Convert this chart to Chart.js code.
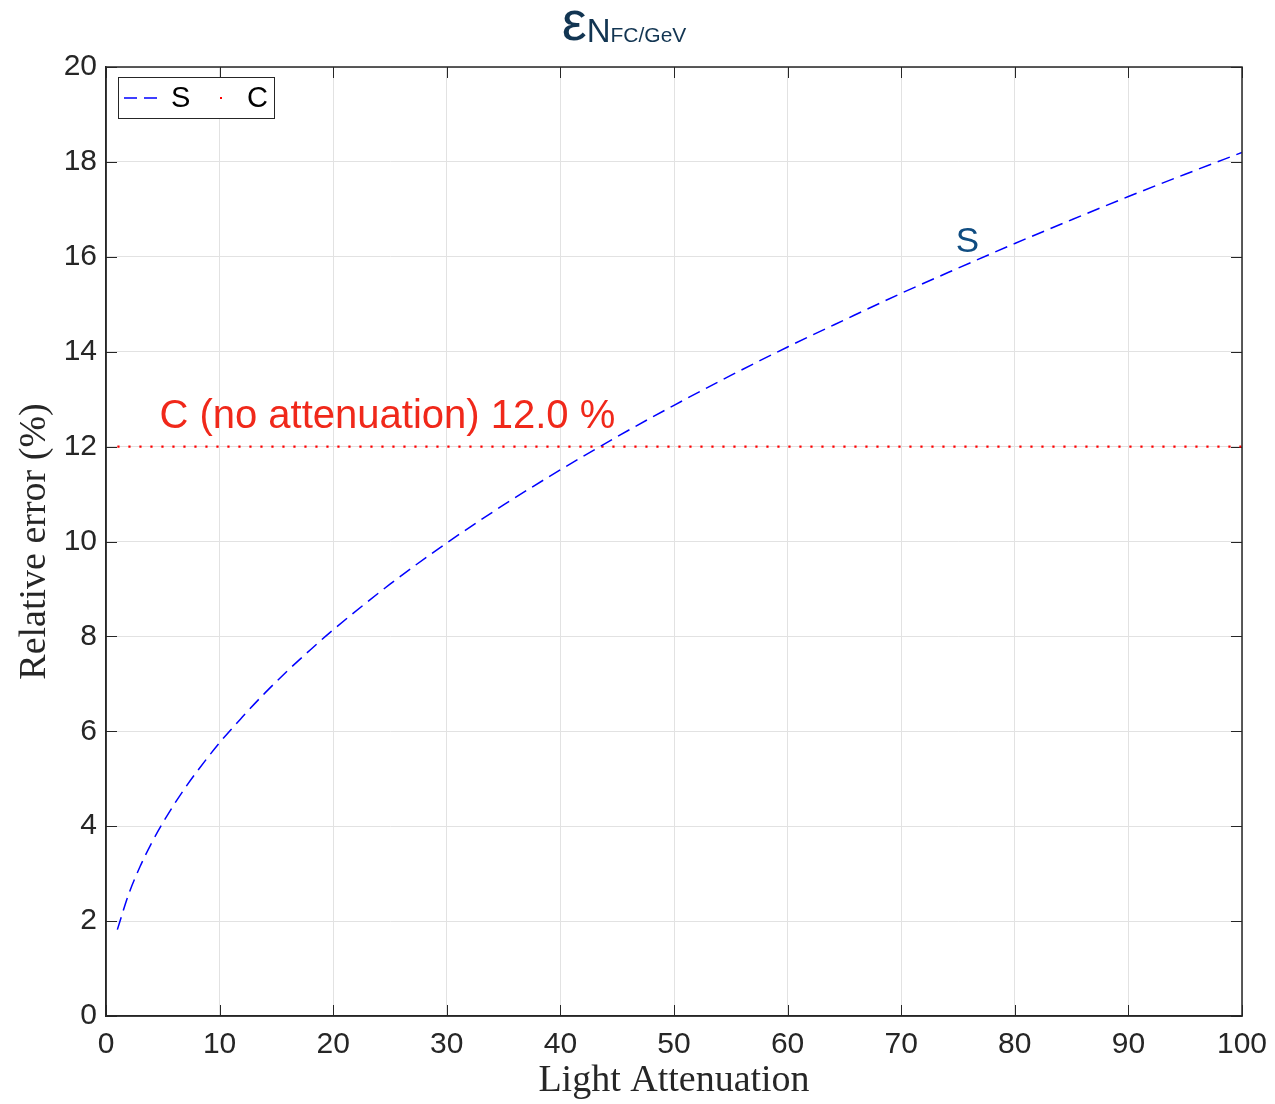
<!DOCTYPE html>
<html><head><meta charset="utf-8">
<script src="https://cdn.jsdelivr.net/npm/chart.js@4"></script>
<style>html,body{margin:0;padding:0;background:#fff}#wrap{width:1275px;height:1104px}</style>
</head><body><div id="wrap"><canvas id="c" width="1275" height="1104"></canvas></div>
<script>
// ---- data ----
const attenuation = [1,2,3,4,5,6,7,8,10,12,14,16,18,20,25,30,35,40,45,50,55,60,65,70,75,80,85,90,95,100];
const relErrorS   = [1.82,2.57,3.15,3.64,4.07,4.46,4.82,5.15,5.76,6.30,6.81,7.28,7.72,8.14,9.10,9.97,10.77,11.51,12.21,12.87,13.50,14.10,14.67,15.23,15.76,16.28,16.78,17.27,17.74,18.20];
const constantC = 12.0;
const xTicks = [0,10,20,30,40,50,60,70,80,90,100];
const yTicks = [0,2,4,6,8,10,12,14,16,18,20];
const seriesNames = ['S','C'];
const annotationC = 'C (no attenuation) 12.0 %';
const annotationS = 'S';
const titleMain = 'ε', titleSub1 = 'N', titleSub2 = 'FC/GeV';
const xLabel = 'Light Attenuation';
const yLabel = 'Relative error (%)';

const TICKFONT = '"Liberation Sans", Arial, Helvetica, sans-serif';
const SERIF = '"Liberation Serif", "Times New Roman", serif';
const AXC = '#262626';

const deco = {
  id: 'deco',
  beforeDatasetsDraw(chart) {
    const {ctx, chartArea: a} = chart;
    ctx.save();
    ctx.strokeStyle = AXC; ctx.lineWidth = 1;
    const xs = chart.scales.x, ys = chart.scales.y;
    ctx.beginPath();
    xTicks.forEach(v => {
      const px = Math.round(xs.getPixelForValue(v)) + 0.5;
      ctx.moveTo(px, a.bottom); ctx.lineTo(px, a.bottom - 11);
      ctx.moveTo(px, a.top); ctx.lineTo(px, a.top + 11);
    });
    yTicks.forEach(v => {
      const py = Math.round(ys.getPixelForValue(v)) + 0.5;
      ctx.moveTo(a.left, py); ctx.lineTo(a.left + 11, py);
      ctx.moveTo(a.right, py); ctx.lineTo(a.right - 11, py);
    });
    ctx.stroke();
    ctx.restore();
  },
  afterDraw(chart) {
    const {ctx, chartArea: a} = chart;
    const xs = chart.scales.x, ys = chart.scales.y;
    ctx.save();
    // box
    ctx.strokeStyle = AXC; ctx.lineWidth = 1.5;
    ctx.strokeRect(a.left, a.top, a.right - a.left, a.bottom - a.top);
    // annotations
    ctx.textBaseline = 'alphabetic'; ctx.textAlign = 'left';
    ctx.fillStyle = '#f0281a';
    ctx.font = '40px ' + TICKFONT;
    ctx.fillText(annotationC, xs.getPixelForValue(4.7), ys.getPixelForValue(12.39));
    ctx.fillStyle = '#0f4c81';
    ctx.font = '35px ' + TICKFONT;
    ctx.fillText(annotationS, xs.getPixelForValue(74.8), ys.getPixelForValue(16.1));
    // legend
    const lx = 118, ly = 77, lw = 156, lh = 41;
    ctx.fillStyle = '#fff'; ctx.fillRect(lx, ly, lw, lh);
    ctx.strokeStyle = AXC; ctx.lineWidth = 1;
    ctx.strokeRect(lx + 0.5, ly + 0.5, lw, lh);
    const ds = chart.data.datasets;
    ctx.strokeStyle = ds[0].borderColor; ctx.lineWidth = 1.5;
    ctx.setLineDash([13, 7]);
    ctx.beginPath(); ctx.moveTo(124, 98); ctx.lineTo(163, 98); ctx.stroke();
    ctx.setLineDash([]);
    ctx.fillStyle = ds[1].borderColor;
    ctx.fillRect(220, 97, 2, 2);
    ctx.fillStyle = '#000';
    ctx.font = '29px ' + TICKFONT;
    ctx.textBaseline = 'middle';
    ctx.fillText(seriesNames[0], 171, 99);
    ctx.fillText(seriesNames[1], 247, 99);
    // title
    ctx.fillStyle = '#123552';
    ctx.textBaseline = 'alphabetic';
    const f1 = '56px ' + TICKFONT, f2 = '33px ' + TICKFONT, f3 = '21px ' + TICKFONT;
    ctx.font = f1; const w1 = ctx.measureText(titleMain).width;
    ctx.font = f2; const w2 = ctx.measureText(titleSub1).width;
    ctx.font = f3; const w3 = ctx.measureText(titleSub2).width;
    let tx = 624 - (w1 + w2 + w3) / 2;
    ctx.font = f1; ctx.fillText(titleMain, tx, 40); tx += w1;
    ctx.font = f2; ctx.fillText(titleSub1, tx, 42); tx += w2;
    ctx.font = f3; ctx.fillText(titleSub2, tx, 42);
    ctx.restore();
  }
};

new Chart(document.getElementById('c'), {
  type: 'line',
  data: {
    datasets: [
      {
        label: seriesNames[0],
        data: attenuation.map((x, i) => ({x, y: relErrorS[i]})),
        borderColor: '#0000ff', borderWidth: 1.5, borderDash: [13, 7],
        pointRadius: 0, tension: 0.4, cubicInterpolationMode: 'monotone', fill: false
      },
      {
        label: seriesNames[1],
        data: [{x: attenuation[0], y: constantC}, {x: attenuation[attenuation.length - 1], y: constantC}],
        borderColor: '#ff0000', borderWidth: 2.2, borderDash: [2.2, 8.8],
        pointRadius: 0, fill: false
      }
    ]
  },
  options: {
    responsive: false, animation: false, devicePixelRatio: 1,
    layout: {padding: {left: 0, right: 33, top: 67, bottom: 0}},
    plugins: {legend: {display: false}, title: {display: false}, tooltip: {enabled: false}},
    scales: {
      x: {
        type: 'linear', min: 0, max: 100,
        afterBuildTicks: s => { s.ticks = xTicks.map(v => ({value: v})); },
        afterFit: s => { s.height = 88; s.paddingLeft = 0; s.paddingRight = 0; },
        grid: {color: '#e2e2e2', lineWidth: 1, drawTicks: false},
        border: {display: true, color: AXC, width: 1.5},
        ticks: {font: {family: TICKFONT, size: 30}, color: AXC, padding: 11, maxRotation: 0, autoSkip: false},
        title: {display: true, text: xLabel, font: {family: SERIF, size: 38}, color: AXC, padding: {top: 0, bottom: 0}}
      },
      y: {
        type: 'linear', min: 0, max: 20,
        afterBuildTicks: s => { s.ticks = yTicks.map(v => ({value: v})); },
        afterFit: s => { s.width = 106; s.paddingTop = 0; s.paddingBottom = 0; },
        grid: {color: '#e2e2e2', lineWidth: 1, drawTicks: false},
        border: {display: true, color: AXC, width: 1.5},
        ticks: {font: {family: TICKFONT, size: 30}, color: AXC, padding: 9, autoSkip: false},
        title: {display: true, text: yLabel, font: {family: SERIF, size: 38}, color: AXC, padding: {top: 12, bottom: 0}}
      }
    }
  },
  plugins: [deco]
});
</script></body></html>
